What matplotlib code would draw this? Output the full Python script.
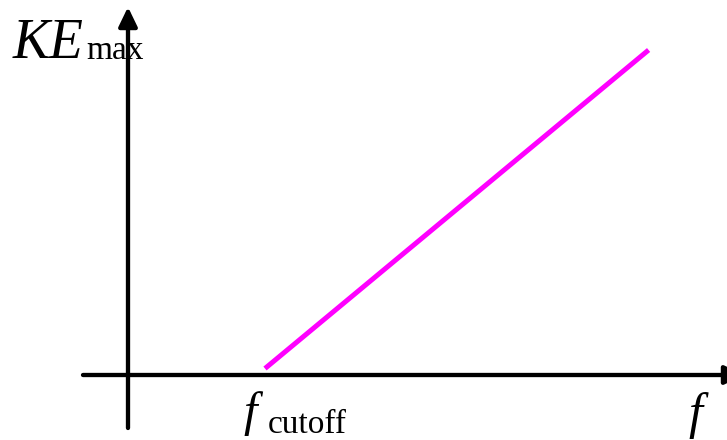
import matplotlib
matplotlib.use("Agg")
import matplotlib.pyplot as plt
from matplotlib.transforms import IdentityTransform

# Data (arbitrary units: f_cutoff = 1, KE at top of line = 1)
freq = [1.0, 3.8]
ke_max = [0.02, 1.0]

x_label = "f"
y_label_main = "KE"
y_label_sub = "max"
cutoff_main = "f"
cutoff_sub = "cutoff"

W, H = 727, 440
fig = plt.figure(figsize=(W / 100, H / 100), dpi=100)
ax = fig.add_axes([0, 0, 1, 1])
# origin at pixel (128, 375); 137 px per x-unit, 325 px per y-unit
ox, oy, sx, sy = 128, 375, 137.0, 325.0
ax.set_xlim((0 - ox) / sx, (W - ox) / sx)
ax.set_ylim((oy - H) / sy, oy / sy)
ax.axis("off")

# axes with arrows
arrow = dict(arrowstyle="-|>,head_length=0.58,head_width=0.28", lw=3.1,
             color="black", mutation_scale=20, shrinkA=0, shrinkB=0)
ax.annotate("", xy=(0, (oy - 7) / sy), xytext=(0, (oy - 428) / sy),
            arrowprops=arrow, annotation_clip=False)
ax.annotate("", xy=((744 - ox) / sx, 0), xytext=((83 - ox) / sx, 0),
            arrowprops=arrow, annotation_clip=False)

ax.plot(freq, ke_max, color="#FF00FF", lw=3.6, solid_capstyle="butt")

serif = "Liberation Serif"
T = IdentityTransform()
def px(x, y):
    return x, H - y

fig.text(*px(13, 58), y_label_main, transform=T, family=serif, style="italic",
         fontsize=40, va="baseline", ha="left")
fig.text(*px(86, 59), y_label_sub, transform=T, family=serif,
         fontsize=24, va="baseline", ha="left")
fig.text(*px(243, 426), cutoff_main, transform=T, family=serif, style="italic",
         fontsize=35, va="baseline", ha="left")
fig.text(*px(268, 433), cutoff_sub, transform=T, family=serif,
         fontsize=24, va="baseline", ha="left")
fig.text(*px(688, 428), x_label, transform=T, family=serif, style="italic",
         fontsize=36, va="baseline", ha="left")

fig.savefig("out.png", dpi=100)
